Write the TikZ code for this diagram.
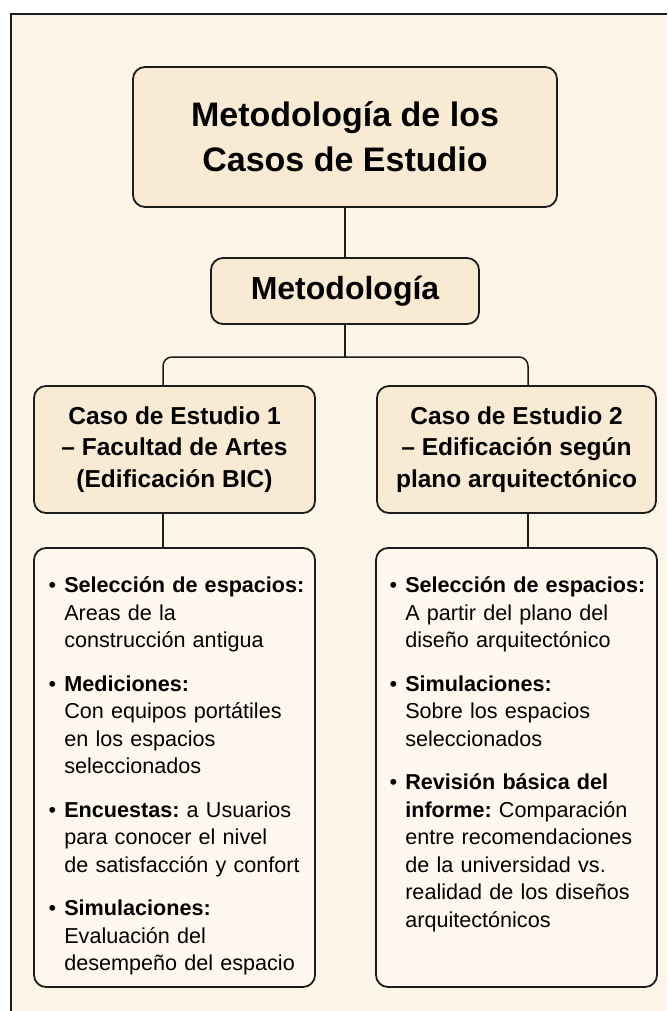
\documentclass[tikz,border=0pt]{standalone}
\usepackage{fontspec}
\setmainfont{Liberation Sans}
\usepackage{enumitem}
\usetikzlibrary{positioning}
\definecolor{paper}{HTML}{FDF5E8}
\definecolor{boxtan}{HTML}{F9EAD3}
\definecolor{listcream}{HTML}{FEF8EE}
\definecolor{ink}{HTML}{1C1C1C}
\tikzstyle{head} = [rectangle, draw=ink, line width=1.8pt, rounded corners=12pt, fill=boxtan, align=center]
\tikzstyle{listbox} = [rectangle, draw=ink, line width=1.8pt, rounded corners=12pt, fill=listcream, minimum width=281pt, minimum height=439pt]
\tikzstyle{items} = [inner sep=0pt, text width=262pt, align=left, font=\fontsize{21.6}{27.5}\selectfont\frenchspacing]
\tikzstyle{link} = [draw=ink, line width=1.5pt]
\setlist[itemize]{nosep, itemsep=16pt, leftmargin=18pt, labelsep=8pt, label=\textbullet}

\begin{document}
\begin{tikzpicture}[x=1pt, y=-1pt]
    \useasboundingbox (0,0) rectangle (667,1011);

    % Background
    \fill[white] (0,0) rectangle (667,1011);
    \fill[paper] (11,14) rectangle (667,1011);
    \draw[ink, line width=1.5pt] (11,1011) -- (11,14) -- (667,14);

    % Top levels
    \node (title) [head, minimum width=424pt, minimum height=140pt, font=\bfseries\fontsize{34}{45}\selectfont] at (345,137) {Metodología de los\\Casos de Estudio};
    \node (method) [head, minimum width=268pt, minimum height=66pt, font=\bfseries\fontsize{32}{38}\selectfont] at (345,291) {Metodología};

    % Study cases
    \node (case1) [head, minimum width=281pt, minimum height=127pt, font=\bfseries\fontsize{24.5}{31.5}\selectfont] at (174.5,449.5) {Caso de Estudio 1\\– Facultad de Artes\\(Edificación BIC)};
    \node (case2) [head, minimum width=279pt, minimum height=127pt, font=\bfseries\fontsize{24.5}{31.5}\selectfont] at (516.5,449.5) {Caso de Estudio 2\\– Edificación según\\plano arquitectónico};

    % Lists
    \node (list1) [listbox] at (174.5,767.5) {};
    \node (list2) [listbox] at (516.5,767.5) {};

    \node (items1) [items, below right=18pt and 13pt of list1.north west] {%
    \begin{itemize}
    \item \textbf{Selección de espacios:}\newline Areas de la\newline construcción antigua
    \item \textbf{Mediciones:}\newline Con equipos portátiles\newline en los espacios\newline seleccionados
    \item \textbf{Encuestas:} a Usuarios\newline para conocer el nivel\newline de satisfacción y confort
    \item \textbf{Simulaciones:}\newline Evaluación del\newline desempeño del espacio
    \end{itemize}};

    \node (items2) [items, below right=18pt and 12pt of list2.north west] {%
    \begin{itemize}
    \item \textbf{Selección de espacios:}\newline A partir del plano del\newline diseño arquitectónico
    \item \textbf{Simulaciones:}\newline Sobre los espacios\newline seleccionados
    \item \textbf{Revisión básica del}\newline \textbf{informe:} Comparación\newline entre recomendaciones\newline de la universidad vs.\newline realidad de los diseños\newline arquitectónicos
    \end{itemize}};

    % ==== Connectors
    \coordinate (fork1) at (163,357);
    \coordinate (fork2) at (528,357);
    \draw [link] (title) -- (method);
    \draw [link] (method.south) -- (method.south |- fork1);
    \draw [link, rounded corners=9pt] (case1.north -| fork1) |- (fork2) -- (case2.north -| fork2);
    \draw [link] (case1.south -| fork1) -- (list1.north -| fork1);
    \draw [link] (case2.south -| fork2) -- (list2.north -| fork2);

\end{tikzpicture}
\end{document}
